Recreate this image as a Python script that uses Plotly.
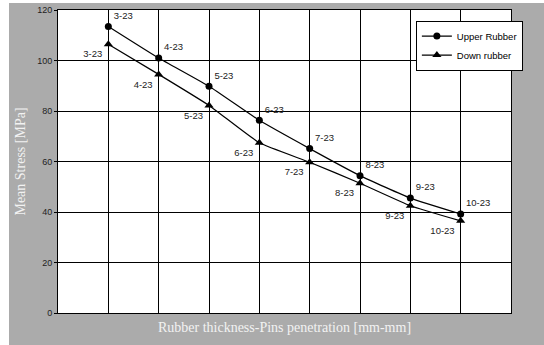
import plotly.graph_objects as go

categories = ["3-23", "4-23", "5-23", "6-23", "7-23", "8-23", "9-23", "10-23"]
upper_rubber = [113.5, 101.0, 89.8, 76.3, 65.1, 54.4, 45.5, 39.2]
down_rubber = [106.4, 94.5, 82.2, 67.4, 59.7, 51.4, 42.5, 36.5]
y_ticks = [0, 20, 40, 60, 80, 100, 120]

GRAY = "#ababab"
LABEL_FONT = dict(family="Liberation Sans, Arial", size=9.5, color="#222")

fig = go.Figure()
fig.add_trace(go.Scatter(
    x=categories, y=upper_rubber, name="Upper Rubber",
    mode="lines+markers+text", text=categories, textposition="top right",
    textfont=LABEL_FONT,
    line=dict(color="black", width=1.2, shape="spline", smoothing=0.4),
    marker=dict(symbol="circle", size=7, color="black"),
))
fig.add_trace(go.Scatter(
    x=categories, y=down_rubber, name="Down rubber",
    mode="lines+markers+text", text=categories, textposition="bottom left",
    textfont=LABEL_FONT,
    line=dict(color="black", width=1.2, shape="spline", smoothing=0.4),
    marker=dict(symbol="triangle-up", size=8, color="black"),
))

fig.update_layout(
    width=544, height=345,
    margin=dict(l=58, r=33, t=10, b=32),
    paper_bgcolor=GRAY, plot_bgcolor="white",
    showlegend=True,
    legend=dict(x=0.79, y=0.965, xanchor="left", yanchor="top",
                bgcolor="white", bordercolor="black", borderwidth=1,
                font=dict(family="Liberation Sans, Arial", size=9.5, color="black"),
                tracegroupgap=0, itemwidth=30),
    xaxis=dict(type="category", range=[-1, len(categories)], showticklabels=False,
               showgrid=True, gridcolor="black", gridwidth=1,
               showline=True, linecolor="black", linewidth=1, mirror=True,
               ticks="", zeroline=False, automargin=False,
               title=dict(text="Rubber thickness-Pins penetration [mm-mm]",
                          font=dict(family="Liberation Serif, Times New Roman", size=14, color="#f2f2f2"),
                          standoff=9)),
    yaxis=dict(range=[0, 120], tickvals=y_ticks, showgrid=True, gridcolor="black", gridwidth=1,
               showline=True, linecolor="black", linewidth=1, mirror=True,
               ticks="outside", ticklen=3, tickcolor="black", zeroline=False, automargin=False,
               tickfont=dict(family="Liberation Sans, Arial", size=9, color="#222"),
               title=dict(text="Mean Stress [MPa]",
                          font=dict(family="Liberation Serif, Times New Roman", size=14, color="#f2f2f2"),
                          standoff=8)),
)
# white strips at top and left edge of the page
fig.add_shape(type="rect", xref="paper", yref="paper", x0=-58/453, x1=1+33/453,
              y0=1+7/303, y1=1+10/303, fillcolor="white", line_width=0, layer="above")
fig.add_shape(type="rect", xref="paper", yref="paper", x0=-58/453, x1=-49/453,
              y0=-32/303, y1=1+10/303, fillcolor="white", line_width=0, layer="above")

fig.write_html("out.html", config={"displayModeBar": False},
               post_script="document.body.style.margin='0';document.body.style.padding='0';")
